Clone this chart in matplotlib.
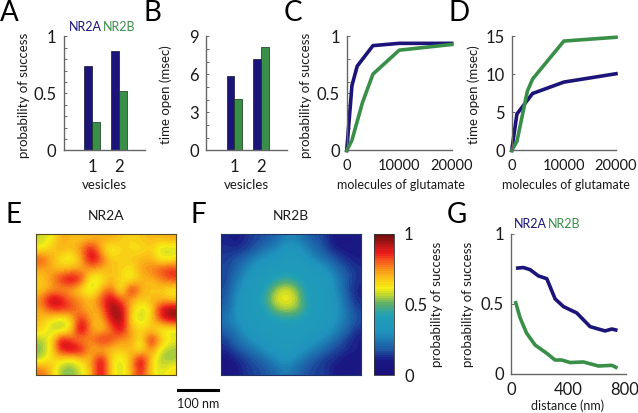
import numpy as np
import matplotlib
matplotlib.use('Agg')
import matplotlib.pyplot as plt
from matplotlib.colors import LinearSegmentedColormap

W, H = 638, 413

# bar data
vesicles = [1, 2]
a_nr2a = [0.74, 0.87]
a_nr2b = [0.25, 0.52]
b_nr2a = [5.9, 7.2]
b_nr2b = [4.1, 8.2]

# dose response
c_x_a = [0, 1000, 2000, 5000, 10000, 20000]
c_y_a = [0, 0.57, 0.74, 0.92, 0.94, 0.94]
c_x_b = [0, 1000, 3000, 5000, 10000, 20000]
c_y_b = [0, 0.09, 0.42, 0.67, 0.88, 0.93]
d_x_a = [0, 1000, 4000, 10000, 20000]
d_y_a = [0, 4.8, 7.5, 9.0, 10.1]
d_x_b = [0, 1000, 3000, 4000, 10000, 20000]
d_y_b = [0, 1.2, 7.8, 9.4, 14.4, 14.9]

# distance curves
g_x_a = [35, 87, 134, 193, 252, 311, 370, 463, 557, 663, 710, 750]
g_y_a = [0.755, 0.76, 0.745, 0.70, 0.68, 0.535, 0.48, 0.435, 0.337, 0.306, 0.32, 0.31]
g_x_b = [30, 64, 110, 170, 252, 310, 357, 416, 510, 616, 710, 750]
g_y_b = [0.52, 0.40, 0.29, 0.205, 0.146, 0.098, 0.098, 0.08, 0.084, 0.055, 0.06, 0.04]

# maps, coarse grids
map_nr2a = [
    [.57, .61, .72, .70, .68, .70, .72, .72, .68, .65, .68, .70, .70, .72],
    [.61, .68, .72, .68, .76, .92, .70, .58, .66, .65, .63, .68, .56, .57],
    [.84, .72, .62, .58, .70, .94, .84, .66, .68, .68, .70, .72, .60, .62],
    [.72, .72, .68, .72, .72, .74, .70, .70, .66, .62, .74, .76, .84, .86],
    [.67, .74, .88, .94, .88, .57, .60, .70, .66, .58, .70, .70, .76, .84],
    [.67, .72, .72, .72, .63, .55, .70, .82, .55, .94, .72, .67, .68, .60],
    [.76, .96, .90, .78, .76, .68, .82, .94, .80, .72, .67, .70, .70, .67],
    [.72, .84, .86, .84, .74, .70, .74, .97, .96, .68, .56, .63, .92, .98],
    [.70, .62, .56, .63, .90, .72, .68, .90, .97, .65, .55, .67, .84, .94],
    [.67, .56, .54, .63, 1.0, .72, .67, .76, .94, .70, .67, .67, .58, .57],
    [.55, .62, .94, .82, .72, .76, .90, .84, .72, .76, .58, .94, .70, .62],
    [.52, .62, .90, .94, .92, .70, .68, .68, .68, .70, .58, .78, .58, .54],
    [.57, .66, .63, .58, .66, .70, .96, .65, .57, .70, .98, .66, .54, .55],
    [.80, .70, .53, .52, .58, .70, .94, .66, .56, .70, .90, .65, .58, .65],
]
map_nr2b = [
    [.12, .09, .13, .16, .18, .22, .27, .27, .21, .18, .14, .08, .07, .11],
    [.13, .13, .15, .19, .25, .28, .34, .33, .27, .22, .16, .11, .10, .09],
    [.15, .18, .22, .28, .32, .33, .36, .36, .33, .27, .22, .17, .13, .11],
    [.16, .20, .28, .34, .35, .37, .38, .37, .36, .35, .31, .22, .17, .13],
    [.15, .24, .32, .35, .38, .42, .47, .42, .38, .37, .35, .27, .19, .13],
    [.17, .27, .34, .36, .43, .56, .60, .54, .40, .37, .35, .29, .18, .11],
    [.18, .30, .35, .37, .48, .60, .62, .58, .42, .37, .36, .31, .20, .12],
    [.20, .31, .35, .37, .42, .54, .56, .54, .44, .37, .35, .32, .24, .15],
    [.24, .30, .33, .36, .38, .40, .42, .42, .38, .36, .35, .30, .24, .17],
    [.20, .26, .32, .35, .37, .37, .38, .37, .36, .36, .33, .27, .21, .13],
    [.15, .22, .28, .32, .34, .35, .37, .36, .33, .31, .27, .21, .15, .10],
    [.12, .17, .21, .26, .31, .33, .36, .33, .30, .25, .20, .15, .13, .11],
    [.08, .12, .15, .18, .23, .29, .32, .28, .22, .17, .13, .13, .08, .09],
    [.07, .09, .14, .16, .18, .22, .26, .22, .17, .15, .14, .09, .07, .10],
]

BLUE = '#1c1478'
GREEN = '#3a8f48'
SPINE = '#666666'
TXT = '#1a1a1a'

plt.rcParams['font.family'] = ['Lato', 'DejaVu Sans']

cmap = LinearSegmentedColormap.from_list('jetlike', [
    (0.0, '#1a0f7a'), (0.1, '#1a1a85'), (0.18, '#1d5aa5'), (0.3, '#1f93bd'),
    (0.42, '#20a0b8'), (0.5, '#55ad70'), (0.58, '#cfdc28'), (0.62, '#f7ee14'),
    (0.72, '#fbae18'), (0.8, '#f6651c'), (0.87, '#ee1c1c'), (0.95, '#a31414'),
    (1.0, '#6e1010')], N=64)


def axpx(fig, x0, x1, ytop, ybot):
    return fig.add_axes([x0 / W, 1 - ybot / H, (x1 - x0) / W, (ybot - ytop) / H])


def txt(fig, x, y, s, size=9.5, color=TXT, ha='center', rot=0):
    fig.text(x / W, 1 - y / H, s, fontsize=size, color=color, ha=ha, va='center', rotation=rot)


def style(ax, yticks, ylabels, minor=None, xsize=12):
    for s in ['top', 'right']:
        ax.spines[s].set_visible(False)
    for s in ['left', 'bottom']:
        ax.spines[s].set_color(SPINE)
        ax.spines[s].set_linewidth(1.0)
    ax.set_yticks(yticks)
    ax.set_yticklabels(ylabels, fontsize=12, color=TXT)
    if minor is not None:
        ax.set_yticks(minor, minor=True)
    ax.tick_params(axis='y', which='both', direction='in', length=2, width=0.7, color=SPINE, pad=5)
    ax.tick_params(axis='x', length=0, pad=6, labelsize=xsize, labelcolor=TXT)


def bars(ax, first, second, ytop):
    x = np.array(vesicles)
    ax.bar(x - 0.1425, first, 0.285, color=BLUE, edgecolor='#111133', linewidth=0.5)
    ax.bar(x + 0.1425, second, 0.285, color=GREEN, edgecolor='#113311', linewidth=0.5)
    ax.set_xlim(-0.063, 2.97)
    ax.set_ylim(0, ytop)
    ax.set_xticks(vesicles)


fig = plt.figure(figsize=(W / 100, H / 100), dpi=100)

ax = axpx(fig, 63.5, 145, 36.5, 150.5)
bars(ax, a_nr2a, a_nr2b, 1)
style(ax, [0, 0.5, 1], ['0', '0.5', '1'], [0.1, 0.2, 0.3, 0.4, 0.6, 0.7, 0.8, 0.9])

ax = axpx(fig, 206, 287, 36.5, 150.5)
bars(ax, b_nr2a, b_nr2b, 9)
style(ax, [0, 3, 6, 9], ['0', '3', '6', '9'], [1, 2, 4, 5, 7, 8])

ax = axpx(fig, 346.7, 451.7, 36.5, 150.5)
ax.plot(c_x_a, c_y_a, color=BLUE, lw=2.6, clip_on=False, solid_joinstyle='round')
ax.plot(c_x_b, c_y_b, color=GREEN, lw=2.6, clip_on=False, solid_joinstyle='round')
ax.set_xlim(0, 20000)
ax.set_ylim(0, 1)
ax.set_xticks([0, 10000, 20000])
style(ax, [0, 0.5, 1], ['0', '0.5', '1'], [0.2, 0.4, 0.6, 0.8], xsize=10.5)

ax = axpx(fig, 511.7, 616, 36.5, 150.5)
ax.plot(d_x_a, d_y_a, color=BLUE, lw=2.6, clip_on=False, solid_joinstyle='round')
ax.plot(d_x_b, d_y_b, color=GREEN, lw=2.6, clip_on=False, solid_joinstyle='round')
ax.set_xlim(0, 20000)
ax.set_ylim(0, 15)
ax.set_xticks([0, 10000, 20000])
style(ax, [0, 5, 10, 15], ['0', '5', '10', '15'], xsize=10.5)

# heat maps
ax = axpx(fig, 35.7, 175.7, 234, 374.7)
ax.imshow(map_nr2a, cmap=cmap, vmin=0, vmax=1, interpolation='bicubic', aspect='auto')
ax.set_xticks([])
ax.set_yticks([])
for s in ax.spines.values():
    s.set_color('#5a4a20')
    s.set_linewidth(0.8)

ax = axpx(fig, 220.7, 361, 234, 374.7)
im = ax.imshow(map_nr2b, cmap=cmap, vmin=0, vmax=1, interpolation='bicubic', aspect='auto')
ax.set_xticks([])
ax.set_yticks([])
for s in ax.spines.values():
    s.set_color('#223366')
    s.set_linewidth(0.8)

cax = axpx(fig, 373.7, 394.3, 234, 375)
cb = fig.colorbar(im, cax=cax)
cb.set_ticks([0, 0.5, 1])
cb.set_ticklabels(['0', '0.5', '1'])
cb.ax.tick_params(length=0, labelsize=12, labelcolor=TXT, pad=7)
cb.outline.set_edgecolor('#333333')
cb.outline.set_linewidth(0.6)

ax = axpx(fig, 511, 626, 234, 373.7)
ax.plot(g_x_a, g_y_a, color=BLUE, lw=2.6, solid_capstyle='butt')
ax.plot(g_x_b, g_y_b, color=GREEN, lw=2.6, solid_capstyle='butt')
ax.set_xlim(0, 810)
ax.set_ylim(0, 1)
ax.set_xticks([0, 400, 800])
style(ax, [0, 0.5, 1], ['0', '0.5', '1'])

# scale bar
fig.add_artist(plt.Line2D([178 / W, 218 / W], [1 - 390 / H, 1 - 390 / H], color='black', lw=2.2))
txt(fig, 198, 404, '100 nm', 9)

# axis labels
txt(fig, 24, 95, 'probability of success', 9.5, rot=90)
txt(fig, 166, 95, 'time open (msec)', 9.5, rot=90)
txt(fig, 306, 95, 'probability of success', 9.5, rot=90)
txt(fig, 474, 95, 'time open (msec)', 9.5, rot=90)
txt(fig, 104, 185, 'vesicles', 9.5)
txt(fig, 246, 185, 'vesicles', 9.5)
txt(fig, 401, 185, 'molecules of glutamate', 9)
txt(fig, 566, 185, 'molecules of glutamate', 9)
txt(fig, 106, 216, 'NR2A', 10)
txt(fig, 291, 216, 'NR2B', 10)
txt(fig, 437, 304, 'probability of success', 9.5, rot=90)
txt(fig, 468, 304, 'probability of success', 9.5, rot=90)
txt(fig, 568, 406, 'distance (nm)', 9)

# legends
txt(fig, 69, 27, 'NR2A', 9, BLUE, ha='left')
txt(fig, 103, 27, 'NR2B', 9, GREEN, ha='left')
txt(fig, 514, 224, 'NR2A', 9, BLUE, ha='left')
txt(fig, 548, 224, 'NR2B', 9, GREEN, ha='left')

# panel letters
for s, x, y in [('A', 9, 13), ('B', 152, 13), ('C', 293, 13), ('D', 459, 13),
                ('E', 13, 215), ('F', 198, 215), ('G', 457, 215)]:
    txt(fig, x, y, s, 20, 'black')

fig.savefig('out.png', dpi=100)
